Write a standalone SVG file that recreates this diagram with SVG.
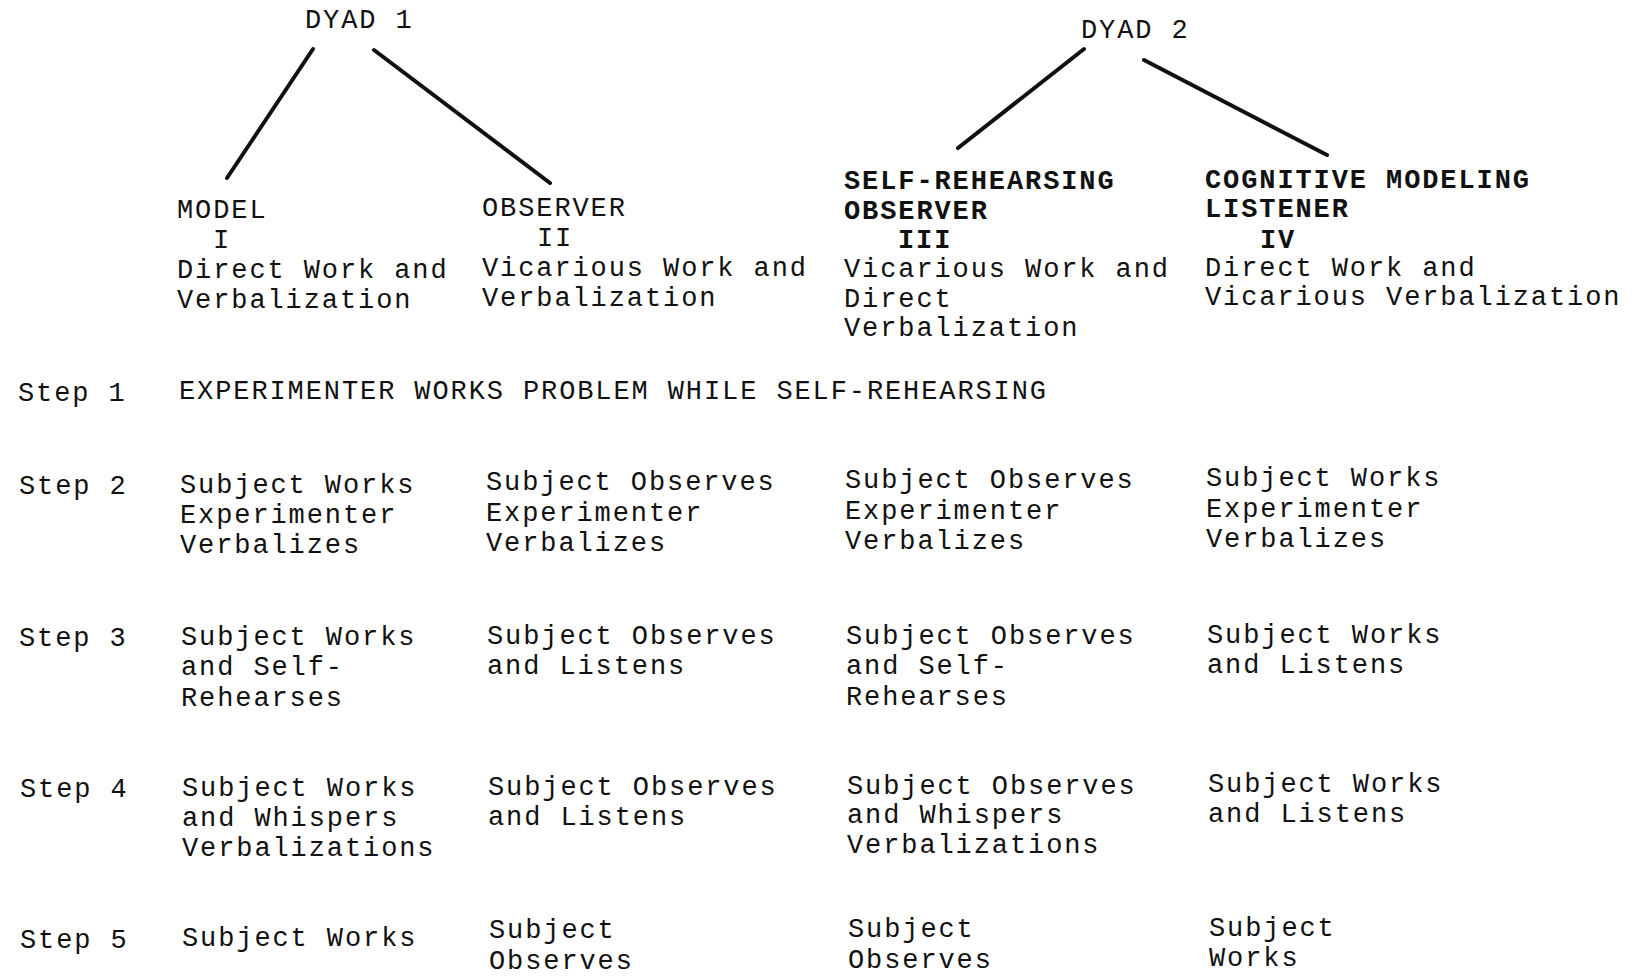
<svg xmlns="http://www.w3.org/2000/svg" width="1634" height="979" viewBox="0 0 1634 979">
<style>
text{font-family:"Liberation Mono","DejaVu Sans Mono",monospace;font-size:27px;letter-spacing:1.9px;fill:#111;}
.b{font-weight:bold;}
.ln{stroke:#111;stroke-width:4;stroke-linecap:round;fill:none;}
</style>
<rect width="1634" height="979" fill="#fff"/>
<g id="connectors">
<line class="ln" x1="313" y1="49" x2="227" y2="178"/>
<line class="ln" x1="374" y1="50" x2="550" y2="183"/>
<line class="ln" x1="1084" y1="49" x2="958" y2="148"/>
<line class="ln" x1="1144" y1="60" x2="1327" y2="155"/>
</g>
<g id="dyad1"><text x="305" y="28">DYAD 1</text></g>
<g id="dyad2"><text x="1081" y="38">DYAD 2</text></g>
<g id="model">
<text x="177" y="218">MODEL</text>
<text x="213" y="248">I</text>
<text x="177" y="278">Direct Work and</text>
<text x="177" y="308">Verbalization</text>
</g>
<g id="observer">
<text x="482" y="216">OBSERVER</text>
<text x="537" y="246">II</text>
<text x="482" y="276">Vicarious Work and</text>
<text x="482" y="306">Verbalization</text>
</g>
<g id="self-rehearsing-observer">
<text class="b" x="844" y="189">SELF-REHEARSING</text>
<text class="b" x="844" y="219">OBSERVER</text>
<text class="b" x="898" y="248">III</text>
<text x="844" y="277">Vicarious Work and</text>
<text x="844" y="307">Direct</text>
<text x="844" y="336">Verbalization</text>
</g>
<g id="cognitive-modeling-listener">
<text class="b" x="1205" y="188">COGNITIVE MODELING</text>
<text class="b" x="1205" y="217">LISTENER</text>
<text class="b" x="1260" y="248">IV</text>
<text x="1205" y="276">Direct Work and</text>
<text x="1205" y="305">Vicarious Verbalization</text>
</g>
<g id="step1">
<text x="18" y="401">Step 1</text>
<text x="179" y="399">EXPERIMENTER WORKS PROBLEM WHILE SELF-REHEARSING</text>
</g>
<g id="step2">
<text x="19" y="494">Step 2</text>
<text x="180" y="493">Subject Works</text>
<text x="180" y="523">Experimenter</text>
<text x="180" y="553">Verbalizes</text>
<text x="486" y="490">Subject Observes</text>
<text x="486" y="521">Experimenter</text>
<text x="486" y="551">Verbalizes</text>
<text x="845" y="488">Subject Observes</text>
<text x="845" y="519">Experimenter</text>
<text x="845" y="549">Verbalizes</text>
<text x="1206" y="486">Subject Works</text>
<text x="1206" y="517">Experimenter</text>
<text x="1206" y="547">Verbalizes</text>
</g>
<g id="step3">
<text x="19" y="646">Step 3</text>
<text x="181" y="645">Subject Works</text>
<text x="181" y="675">and Self-</text>
<text x="181" y="706">Rehearses</text>
<text x="487" y="644">Subject Observes</text>
<text x="487" y="674">and Listens</text>
<text x="846" y="644">Subject Observes</text>
<text x="846" y="674">and Self-</text>
<text x="846" y="705">Rehearses</text>
<text x="1207" y="643">Subject Works</text>
<text x="1207" y="673">and Listens</text>
</g>
<g id="step4">
<text x="20" y="797">Step 4</text>
<text x="182" y="796">Subject Works</text>
<text x="182" y="826">and Whispers</text>
<text x="182" y="856">Verbalizations</text>
<text x="488" y="795">Subject Observes</text>
<text x="488" y="825">and Listens</text>
<text x="847" y="794">Subject Observes</text>
<text x="847" y="823">and Whispers</text>
<text x="847" y="853">Verbalizations</text>
<text x="1208" y="792">Subject Works</text>
<text x="1208" y="822">and Listens</text>
</g>
<g id="step5">
<text x="20" y="948">Step 5</text>
<text x="182" y="946">Subject Works</text>
<text x="489" y="938">Subject</text>
<text x="489" y="969">Observes</text>
<text x="848" y="937">Subject</text>
<text x="848" y="968">Observes</text>
<text x="1209" y="936">Subject</text>
<text x="1209" y="966">Works</text>
</g>
</svg>
